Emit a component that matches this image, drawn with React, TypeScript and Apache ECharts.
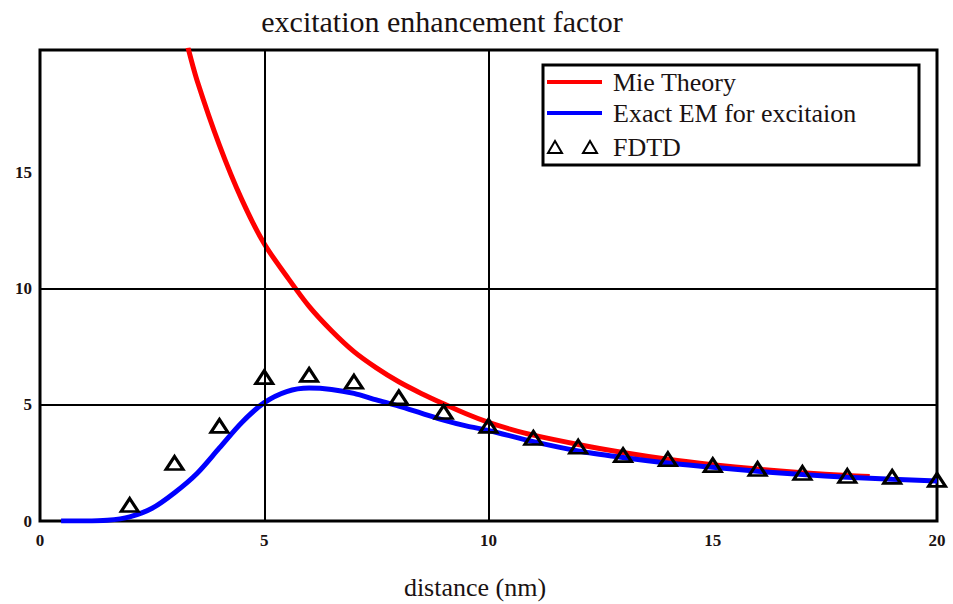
import React, { useEffect, useRef } from "react";
import * as echarts from "echarts";

const titleText = "excitation enhancement factor";
const xAxisName = "distance (nm)";
const seriesNames = ["Mie Theory", "Exact EM for excitaion", "FDTD"];

const xTicks = [0, 5, 10, 15, 20];
const yTickLabels = [0, 5, 10, 15];
const gridValues = [5, 10];

const mieX = [3.3, 3.5, 4.0, 4.5, 5.0, 5.5, 6.0, 6.5, 7.0, 7.5, 8.0, 8.5, 9.0, 9.5, 10.0, 10.5, 11.0, 12.0, 13.0, 14.0, 15.0, 16.0, 17.0, 18.0, 18.5];
const mieY = [20.4, 19.0, 16.2, 13.85, 11.95, 10.55, 9.25, 8.2, 7.3, 6.6, 6.0, 5.5, 5.05, 4.62, 4.25, 3.95, 3.7, 3.3, 2.95, 2.66, 2.43, 2.24, 2.08, 1.96, 1.92];

const exactX = [0.47, 1.0, 1.5, 2.0, 2.5, 3.0, 3.5, 4.0, 4.5, 5.0, 5.5, 6.0, 6.5, 7.0, 7.5, 8.0, 8.5, 9.0, 9.5, 10.0, 11.0, 12.0, 13.0, 14.0, 15.0, 16.0, 17.0, 18.0, 19.0, 20.0];
const exactY = [0, 0.0, 0.03, 0.18, 0.55, 1.22, 2.05, 3.15, 4.25, 5.1, 5.58, 5.73, 5.67, 5.5, 5.22, 4.95, 4.65, 4.35, 4.1, 3.9, 3.42, 3.02, 2.74, 2.5, 2.32, 2.14, 2.0, 1.89, 1.8, 1.72];

const fdtdX = [2, 3, 4, 5, 6, 7, 8, 9, 10, 11, 12, 13, 14, 15, 16, 17, 18, 19, 20];
const fdtdY = [0.69, 2.5, 4.1, 6.2, 6.3, 6.0, 5.33, 4.7, 4.1, 3.58, 3.2, 2.84, 2.66, 2.41, 2.24, 2.07, 1.94, 1.9, 1.77];

const FONT = "Liberation Serif, DejaVu Serif, serif";
const TEXT = "#1a1212";

export default function App() {
  const ref = useRef<HTMLDivElement>(null);
  useEffect(() => {
    if (!ref.current) return;
    const chart = echarts.init(ref.current, undefined, { renderer: "svg" });
    const zip = (xs: number[], ys: number[]) => xs.map((x, i) => [x, ys[i]]);
    const legendX = 543;
    const legendY = 65;
    const textStyle = (size: number) => ({
      fontFamily: FONT,
      fontSize: size,
      fill: TEXT,
    });
    chart.setOption({
      animation: false,
      backgroundColor: "#fff",
      grid: {
        left: 40,
        right: 16,
        top: 50,
        bottom: 83,
        show: true,
        borderColor: "#000",
        borderWidth: 3,
        backgroundColor: "transparent",
      },
      xAxis: {
        type: "value",
        min: xTicks[0],
        max: xTicks[xTicks.length - 1],
        interval: 5,
        axisLine: { show: false },
        axisTick: { show: false },
        splitLine: { show: false },
        axisLabel: {
          margin: 11,
          fontFamily: FONT,
          fontSize: 17,
          fontWeight: "bold",
          color: TEXT,
          showMinLabel: true,
          showMaxLabel: true,
        },
      },
      yAxis: {
        type: "value",
        min: 0,
        max: 20.3,
        interval: 5,
        axisLine: { show: false },
        axisTick: { show: false },
        splitLine: { show: false },
        axisLabel: {
          margin: 8,
          fontFamily: FONT,
          fontSize: 17,
          fontWeight: "bold",
          color: TEXT,
          showMaxLabel: false,
          formatter: (v: number) => (yTickLabels.includes(v) ? String(v) : ""),
        },
      },
      graphic: [
        {
          type: "text",
          style: {
            text: titleText,
            x: 442,
            y: 21,
            align: "center",
            verticalAlign: "middle",
            ...textStyle(30),
          },
        },
        {
          type: "text",
          style: {
            text: xAxisName,
            x: 475,
            y: 587,
            align: "center",
            verticalAlign: "middle",
            ...textStyle(26),
          },
        },
        {
          type: "rect",
          z: 20,
          shape: { x: legendX, y: legendY, width: 376, height: 100 },
          style: { fill: "#fff", stroke: "#000", lineWidth: 3 },
        },
        {
          type: "line",
          z: 21,
          shape: { x1: 547, y1: 82, x2: 602, y2: 82 },
          style: { stroke: "#ff0000", lineWidth: 4 },
        },
        {
          type: "line",
          z: 21,
          shape: { x1: 547, y1: 113, x2: 602, y2: 113 },
          style: { stroke: "#0000ff", lineWidth: 4 },
        },
        {
          type: "polygon",
          z: 21,
          shape: { points: [[555, 141], [548, 153], [562, 153]] },
          style: { fill: "none", stroke: "#000", lineWidth: 2 },
        },
        {
          type: "polygon",
          z: 21,
          shape: { points: [[590, 141], [583, 153], [597, 153]] },
          style: { fill: "none", stroke: "#000", lineWidth: 2 },
        },
        ...seriesNames.map((name, i) => ({
          type: "text",
          z: 21,
          style: {
            text: name,
            x: 613,
            y: [82, 113, 147][i],
            verticalAlign: "middle",
            ...textStyle(26),
          },
        })),
      ],
      series: [
        {
          type: "line",
          name: "grid",
          data: [],
          z: 1,
          silent: true,
          markLine: {
            silent: true,
            symbol: "none",
            label: { show: false },
            lineStyle: { color: "#000", width: 2, type: "solid" },
            data: [
              ...gridValues.map((v) => ({ xAxis: v })),
              ...gridValues.map((v) => ({ yAxis: v })),
            ],
          },
        },
        {
          type: "line",
          name: seriesNames[0],
          data: zip(mieX, mieY),
          smooth: 0.3,
          showSymbol: false,
          z: 3,
          lineStyle: { color: "#ff0000", width: 5 },
          itemStyle: { color: "#ff0000" },
        },
        {
          type: "line",
          name: seriesNames[1],
          data: zip(exactX, exactY),
          smooth: 0.3,
          showSymbol: false,
          z: 4,
          lineStyle: { color: "#0000ff", width: 5 },
          itemStyle: { color: "#0000ff" },
        },
        {
          type: "scatter",
          name: seriesNames[2],
          data: zip(fdtdX, fdtdY),
          symbol: "triangle",
          symbolSize: [17, 13],
          z: 5,
          itemStyle: { color: "rgba(0,0,0,0)", borderColor: "#000", borderWidth: 3, opacity: 1 },
        },
      ],
    });
    return () => chart.dispose();
  }, []);
  return (
    <div
      ref={ref}
      style={{ position: "fixed", left: 0, top: 0, width: 953, height: 604 }}
    />
  );
}
